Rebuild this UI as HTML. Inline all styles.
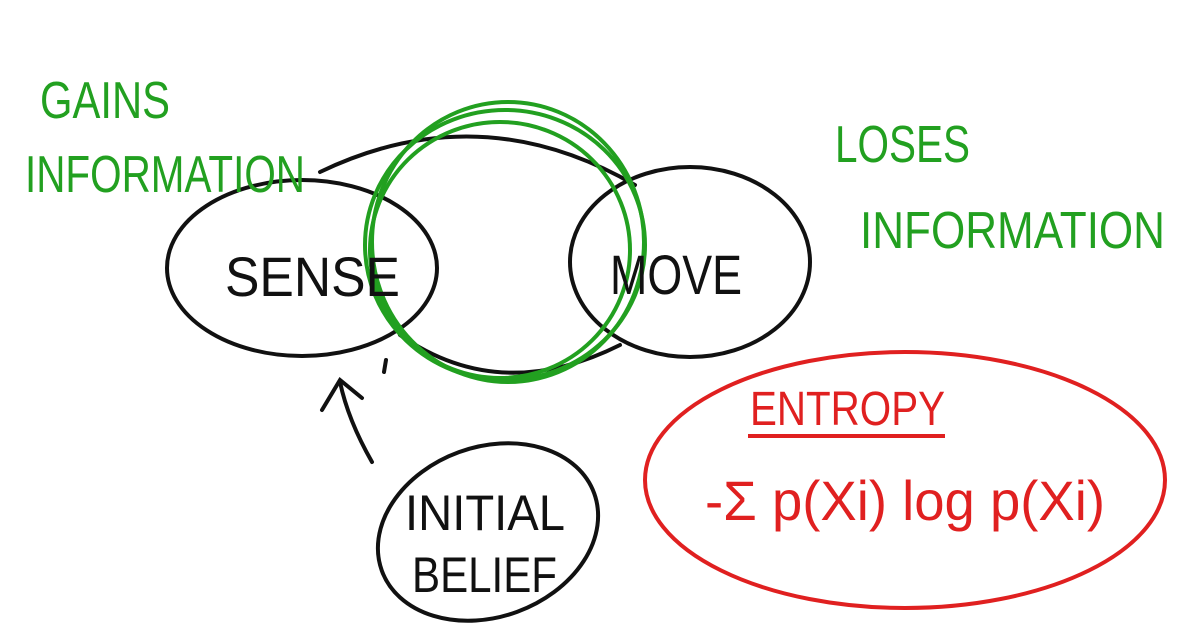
<!DOCTYPE html>
<html><head><meta charset="utf-8"><style>
html,body{margin:0;padding:0;background:#fff;}
svg{display:block;}
text{font-family:"Liberation Sans",sans-serif;}
</style></head><body>
<svg width="1193" height="643" viewBox="0 0 1193 643" xmlns="http://www.w3.org/2000/svg">
<rect width="1193" height="643" fill="#fff"/>
<g fill="none" stroke="#111" stroke-width="4" stroke-linecap="round">
  <ellipse cx="302" cy="268" rx="135" ry="88"/>
  <ellipse cx="690" cy="262" rx="120" ry="95"/>
  <path d="M320 172 Q480 95 635 185"/>
  <path d="M400 335 Q500 405 620 345"/>
  <ellipse cx="488" cy="532" rx="113" ry="85" transform="rotate(-20 488 532)"/>
  <path d="M372 462 Q348 420 340 382"/>
  <path d="M322 410 L340 380 L362 398"/>
  <path d="M384 372 L386 360"/>
</g>
<g fill="none" stroke="#22a020" stroke-width="4">
  <ellipse cx="505" cy="245" rx="140" ry="135"/>
  <ellipse cx="500" cy="250" rx="130" ry="128"/>
  <ellipse cx="508" cy="242" rx="136" ry="140"/>
</g>
<ellipse cx="905" cy="480" rx="260" ry="128" fill="none" stroke="#e02020" stroke-width="4"/>
<g fill="#22a020" font-size="52">
  <text x="40" y="118" textLength="130" lengthAdjust="spacingAndGlyphs">GAINS</text>
  <text x="25" y="192" textLength="280" lengthAdjust="spacingAndGlyphs">INFORMATION</text>
  <text x="835" y="162" textLength="135" lengthAdjust="spacingAndGlyphs">LOSES</text>
  <text x="860" y="248" textLength="305" lengthAdjust="spacingAndGlyphs">INFORMATION</text>
</g>
<g fill="#111" font-size="56">
  <text x="225" y="296" textLength="175" lengthAdjust="spacingAndGlyphs">SENSE</text>
  <text x="610" y="294" textLength="132" lengthAdjust="spacingAndGlyphs">MOVE</text>
  <text x="405" y="530" font-size="50" textLength="160" lengthAdjust="spacingAndGlyphs">INITIAL</text>
  <text x="412" y="592" font-size="50" textLength="145" lengthAdjust="spacingAndGlyphs">BELIEF</text>
</g>
<g fill="#e02020">
  <text x="750" y="425" font-size="48" textLength="195" lengthAdjust="spacingAndGlyphs">ENTROPY</text>
  <text x="705" y="520" font-size="56" textLength="400" lengthAdjust="spacingAndGlyphs">-Σ p(Xi) log p(Xi)</text>
</g>
<line x1="748" y1="436" x2="945" y2="436" stroke="#e02020" stroke-width="4"/>
</svg>
</body></html>
